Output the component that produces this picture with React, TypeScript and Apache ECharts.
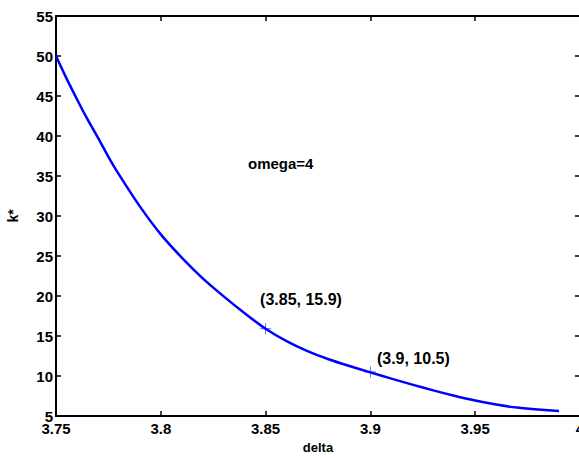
import React, { useEffect, useRef } from "react";
import * as echarts from "echarts";

const deltaValues = [
  3.75, 3.755, 3.76, 3.765, 3.77, 3.775, 3.78, 3.79, 3.8, 3.81, 3.82, 3.83, 3.84, 3.85, 3.86,
  3.87, 3.88, 3.89, 3.9, 3.91, 3.92, 3.93, 3.94, 3.95, 3.96, 3.97, 3.98, 3.99,
];
const kValues = [
  50.0, 47.2, 44.6, 42.1, 39.8, 37.4, 35.2, 31.2, 27.7, 24.8, 22.2, 19.95, 17.85, 15.9, 14.35,
  13.1, 12.1, 11.25, 10.45, 9.67, 8.92, 8.2, 7.53, 6.93, 6.43, 6.05, 5.8, 5.63,
];
const markedDelta = [3.85, 3.9];
const markedK = [15.9, 10.5];
const annotationText = "omega=4";
const xAxisTitle = "delta";
const yAxisTitle = "k*";

const FONT = "Liberation Sans, Arial, Helvetica, sans-serif";

export default function App() {
  const ref = useRef<HTMLDivElement>(null);

  useEffect(() => {
    if (!ref.current) return;
    const chart = echarts.init(ref.current, null, { renderer: "svg" });
    const axisLine = { show: true, lineStyle: { color: "#000", width: 2 } };
    const tick = { show: true, inside: true, length: 5, lineStyle: { color: "#000", width: 1.5 } };
    const label = { color: "#000", fontSize: 15, fontWeight: "bold" as const, fontFamily: FONT };
    const fmtX = (v: number) => String(+v.toFixed(2));

    chart.setOption({
      animation: false,
      backgroundColor: "#fff",
      grid: {
        left: 56,
        top: 16,
        width: 524,
        height: 400,
        containLabel: false,
        outerBoundsMode: "none",
      },
      xAxis: [
        {
          type: "value",
          min: 3.75,
          max: 4,
          interval: 0.05,
          position: "bottom",
          axisLine,
          axisTick: tick,
          splitLine: { show: false },
          axisLabel: { ...label, margin: 5, formatter: fmtX, hideOverlap: false },
          name: xAxisTitle,
          nameLocation: "middle",
          nameGap: 25,
          nameTextStyle: { color: "#000", fontSize: 13, fontWeight: "bold", fontFamily: FONT },
        },
        {
          type: "value",
          min: 3.75,
          max: 4,
          interval: 0.05,
          position: "top",
          axisLine,
          axisTick: tick,
          splitLine: { show: false },
          axisLabel: { show: false },
        },
      ],
      yAxis: [
        {
          type: "value",
          min: 5,
          max: 55,
          interval: 5,
          position: "left",
          axisLine,
          axisTick: tick,
          splitLine: { show: false },
          axisLabel: { ...label, margin: 3 },
          name: yAxisTitle,
          nameLocation: "middle",
          nameGap: 36,
          nameRotate: 90,
          nameTextStyle: { color: "#000", fontSize: 14, fontWeight: "bold", fontFamily: FONT },
        },
        {
          type: "value",
          min: 5,
          max: 55,
          interval: 5,
          position: "right",
          axisLine,
          axisTick: tick,
          splitLine: { show: false },
          axisLabel: { show: false },
        },
      ],
      series: [
        {
          type: "line",
          xAxisIndex: 0,
          yAxisIndex: 0,
          data: deltaValues.map((d, i) => [d, kValues[i]]),
          showSymbol: false,
          smooth: 0.2,
          lineStyle: { color: "#0000ff", width: 2.5, join: "round" },
          silent: true,
        },
        {
          type: "scatter",
          xAxisIndex: 0,
          yAxisIndex: 0,
          data: markedDelta.map((d, i) => [d, markedK[i]]),
          symbol: "path://M4.6,0H5.4V10H4.6Z M0,4.6H10V5.4H0Z",
          symbolSize: 11,
          itemStyle: { color: "#5a5aff", opacity: 1 },
          label: {
            show: true,
            position: "right",
            distance: 0,
            align: "left",
            color: "#000",
            opacity: 1,
            fontSize: 16,
            fontWeight: "bold",
            fontFamily: FONT,
            formatter: (p: any) => `(${p.value[0]}, ${p.value[1]})`,
          },
          labelLayout: (p: any) =>
            p.dataIndex === 0 ? { dx: -11, dy: -29 } : { dx: 1, dy: -14 },
          silent: true,
        },
      ],
      graphic: [
        {
          type: "text",
          left: 248,
          top: 156,
          style: { text: annotationText, fill: "#000", font: `bold 15px ${FONT}` },
        },
      ],
    });

    return () => chart.dispose();
  }, []);

  return (
    <div
      ref={ref}
      style={{ position: "fixed", left: 0, top: 0, width: 579, height: 458 }}
    />
  );
}
